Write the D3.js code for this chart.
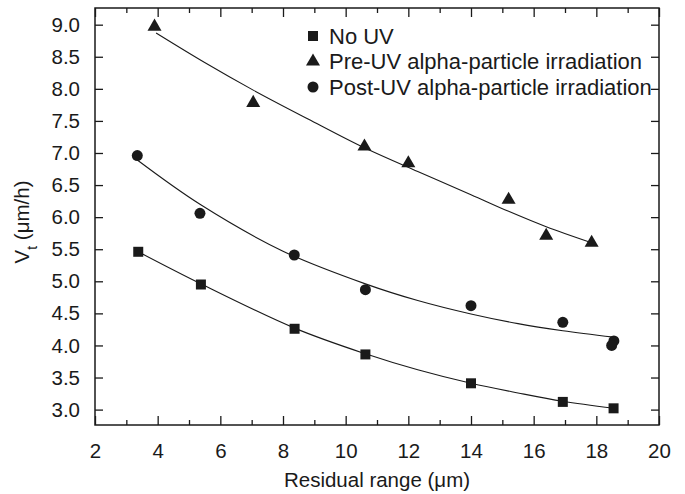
<!DOCTYPE html>
<html>
<head>
<meta charset="utf-8">
<script src="https://cdn.jsdelivr.net/npm/d3@7"></script>
<style>
  body { margin: 0; background: #fff; }
  svg { display: block; font-family: "Liberation Sans", Arial, sans-serif; }
</style>
</head>
<body>
<svg id="chart" width="685" height="494"></svg>
<script>
// measured points
const noUvX = [3.38, 5.38, 8.37, 10.63, 14.0, 16.93, 18.55];
const noUvY = [5.46, 4.95, 4.26, 3.86, 3.41, 3.12, 3.02];

const preUvX = [3.9, 7.05, 10.6, 12.0, 15.2, 16.4, 17.85];
const preUvY = [8.97, 7.78, 7.10, 6.84, 6.27, 5.71, 5.60];

const postUvX = [3.35, 5.35, 8.36, 10.63, 14.0, 16.93, 18.56, 18.49];
const postUvY = [6.96, 6.06, 5.41, 4.87, 4.62, 4.36, 4.07, 4.00];

// fitted curves
const fitNoUvX = [3.38, 5.38, 8.37, 10.63, 12.3, 14.0, 15.5, 16.93, 18.55];
const fitNoUvY = [5.46, 4.96, 4.27, 3.87, 3.62, 3.41, 3.26, 3.13, 3.02];

const fitPreUvX = [3.95, 5.5, 7.05, 8.8, 10.6, 12.3, 14.0, 15.2, 16.4, 17.85];
const fitPreUvY = [8.87, 8.41, 7.98, 7.53, 7.08, 6.71, 6.35, 6.09, 5.85, 5.60];

const fitPostUvX = [3.35, 5.35, 8.0, 10.63, 12.3, 14.0, 15.5, 16.93, 18.55];
const fitPostUvY = [6.89, 6.20, 5.47, 4.96, 4.70, 4.49, 4.34, 4.23, 4.13];

const xMajorTicks = [2, 4, 6, 8, 10, 12, 14, 16, 18, 20];
const xMinorTicks = [3, 5, 7, 9, 11, 13, 15, 17, 19];
const yTicks = [3.0, 3.5, 4.0, 4.5, 5.0, 5.5, 6.0, 6.5, 7.0, 7.5, 8.0, 8.5, 9.0];

const legendLabels = ["No UV", "Pre-UV alpha-particle irradiation", "Post-UV alpha-particle irradiation"];

const width = 685, height = 494;
const margin = {top: 8, right: 26, bottom: 69, left: 95};
const ink = "#1a1a1a";

const svg = d3.select("#chart");

const x = d3.scaleLinear().domain([2, 20]).range([margin.left, width - margin.right]);
const y = d3.scaleLinear().domain([2.76, 9.26]).range([height - margin.bottom, margin.top]);

// axes, ticks point inward
function styleAxis(g) {
  g.select(".domain").remove();
  g.selectAll("line").attr("stroke", ink).attr("stroke-width", 1.3);
  g.selectAll("text").attr("fill", ink).style("font-size", "20.5px");
}

svg.append("g")
    .attr("transform", "translate(0," + y.range()[0] + ")")
    .call(d3.axisBottom(x).tickValues(xMajorTicks).tickSize(-9).tickPadding(18).tickFormat(d3.format("d")))
    .call(styleAxis);
svg.append("g")
    .attr("transform", "translate(0," + y.range()[0] + ")")
    .call(d3.axisBottom(x).tickValues(xMinorTicks).tickSize(-5).tickFormat(""))
    .call(styleAxis);
svg.append("g")
    .attr("transform", "translate(0," + y.range()[1] + ")")
    .call(d3.axisTop(x).tickValues(xMajorTicks).tickSize(-9).tickFormat(""))
    .call(styleAxis);
svg.append("g")
    .attr("transform", "translate(0," + y.range()[1] + ")")
    .call(d3.axisTop(x).tickValues(xMinorTicks).tickSize(-5).tickFormat(""))
    .call(styleAxis);
svg.append("g")
    .attr("transform", "translate(" + x.range()[0] + ",0)")
    .call(d3.axisLeft(y).tickValues(yTicks).tickSize(-8).tickPadding(15).tickFormat(d3.format(".1f")))
    .call(styleAxis);
svg.append("g")
    .attr("transform", "translate(" + x.range()[1] + ",0)")
    .call(d3.axisRight(y).tickValues(yTicks).tickSize(-8).tickFormat(""))
    .call(styleAxis);

// frame
svg.append("rect")
    .attr("x", x.range()[0])
    .attr("y", y.range()[1])
    .attr("width", x.range()[1] - x.range()[0])
    .attr("height", y.range()[0] - y.range()[1])
    .attr("fill", "none")
    .attr("stroke", ink)
    .attr("stroke-width", 1.5);

// axis titles
svg.append("text")
    .attr("x", (x.range()[0] + x.range()[1]) / 2)
    .attr("y", 487)
    .attr("text-anchor", "middle")
    .attr("fill", ink)
    .style("font-size", "20.5px")
    .text("Residual range (\u03bcm)");

const yTitle = svg.append("text")
    .attr("transform", "translate(29,222) rotate(-90)")
    .attr("text-anchor", "middle")
    .attr("fill", ink)
    .style("font-size", "20.5px");
yTitle.append("tspan").text("V");
yTitle.append("tspan").attr("baseline-shift", "sub").style("font-size", "14px").text("t");
yTitle.append("tspan").text(" (\u03bcm/h)");

// fit curves
const line = d3.line()
    .x(d => x(d[0]))
    .y(d => y(d[1]))
    .curve(d3.curveCatmullRom);

const fits = [
  d3.zip(fitNoUvX, fitNoUvY),
  d3.zip(fitPreUvX, fitPreUvY),
  d3.zip(fitPostUvX, fitPostUvY)
];
svg.append("g").selectAll("path")
    .data(fits)
    .join("path")
    .attr("d", line)
    .attr("fill", "none")
    .attr("stroke", ink)
    .attr("stroke-width", 1.1);

// markers
const symbols = [d3.symbolSquare, d3.symbolTriangle, d3.symbolCircle];
const symbolSizes = [100, 85, 95];
const series = [
  d3.zip(noUvX, noUvY),
  d3.zip(preUvX, preUvY),
  d3.zip(postUvX, postUvY)
];
series.forEach((pts, i) => {
  svg.append("g").selectAll("path")
      .data(pts)
      .join("path")
      .attr("transform", d => "translate(" + x(d[0]) + "," + y(d[1]) + ")")
      .attr("d", d3.symbol(symbols[i], symbolSizes[i]))
      .attr("fill", ink);
});

// legend
const legend = svg.append("g").attr("transform", "translate(313,36)");
legendLabels.forEach((label, i) => {
  const row = legend.append("g").attr("transform", "translate(0," + (i * 25.5) + ")");
  row.append("path")
      .attr("d", d3.symbol(symbols[i], symbolSizes[i]))
      .attr("fill", ink);
  row.append("text")
      .attr("x", 16)
      .attr("dy", "0.36em")
      .attr("fill", ink)
      .style("font-size", "22px")
      .text(label);
});
</script>
</body>
</html>
